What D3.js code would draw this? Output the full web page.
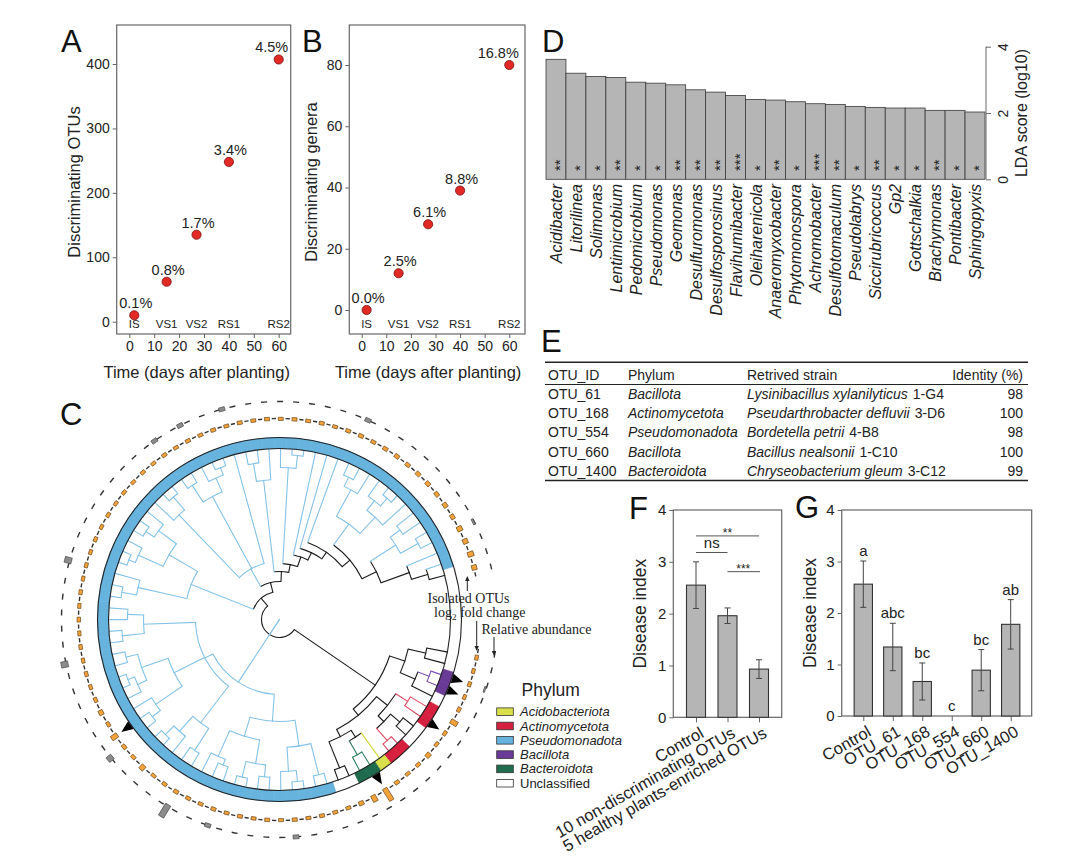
<!DOCTYPE html>
<html>
<head>
<meta charset="utf-8">
<script src="https://cdn.jsdelivr.net/npm/d3@7"></script>
<style>
  body { margin: 0; background: #fff; }
  svg { display: block; font-family: "Liberation Sans", Arial, sans-serif; }
</style>
</head>
<body>
<svg id="fig" width="1080" height="861"></svg>
<script>
// ---------- data ----------
const stages = ["IS", "VS1", "VS2", "RS1", "RS2"];
const stageDays = [2, 15, 27, 40, 60];
const otuCounts = [10, 62, 135, 248, 407];
const otuPct = ["0.1%", "0.8%", "1.7%", "3.4%", "4.5%"];
const genusCounts = [0, 12, 28, 39, 80];
const genusPct = ["0.0%", "2.5%", "6.1%", "8.8%", "16.8%"];

const ldaGenera = ["Acidibacter", "Litorilinea", "Solimonas", "Lentimicrobium", "Pedomicrobium", "Pseudomonas",
  "Geomonas", "Desulfuromonas", "Desulfosporosinus", "Flavihumibacter", "Oleiharenicola", "Anaeromyxobacter",
  "Phytomonospora", "Achromobacter", "Desulfotomaculum", "Pseudolabrys", "Siccirubricoccus", "Gp2",
  "Gottschalkia", "Brachymonas", "Pontibacter", "Sphingopyxis"];
const ldaScores = [3.62, 3.20, 3.10, 3.07, 2.93, 2.90, 2.85, 2.70, 2.63, 2.53, 2.41, 2.39,
  2.34, 2.28, 2.26, 2.20, 2.17, 2.15, 2.15, 2.08, 2.08, 2.03];
const ldaStars = ["**", "*", "*", "**", "*", "*", "**", "**", "**", "***", "*", "**",
  "*", "***", "**", "*", "**", "*", "*", "**", "*", "*"];

const otuIds = ["OTU_61", "OTU_168", "OTU_554", "OTU_660", "OTU_1400"];
const otuPhyla = ["Bacillota", "Actinomycetota", "Pseudomonadota", "Bacillota", "Bacteroidota"];
const strainNames = ["Lysinibacillus xylanilyticus", "Pseudarthrobacter defluvii", "Bordetella petrii",
  "Bacillus nealsonii", "Chryseobacterium gleum"];
const strainCodes = ["1-G4", "3-D6", "4-B8", "1-C10", "3-C12"];
const identity = [98, 100, 98, 100, 99];

const fGroups = ["Control", "10 non-discriminating OTUs", "5 healthy plants-enriched OTUs"];
const fMeans = [2.55, 1.96, 0.93];
const fErr = [0.45, 0.15, 0.18];
const fSig = [[0, 2, 3.50, "**"], [0, 1, 3.18, "ns"], [1, 2, 2.81, "***"]];

const gGroups = ["Control", "OTU_61", "OTU_168", "OTU_554", "OTU_660", "OTU_1400"];
const gMeans = [2.56, 1.34, 0.67, 0, 0.89, 1.78];
const gErr = [0.45, 0.46, 0.36, 0, 0.40, 0.48];
const gLetters = ["a", "abc", "bc", "c", "bc", "ab"];

// tree: leaves are phylum codes, internal labels are node radii (px)
const treeNewick =
  "(" +
  "(((U,U)150,((B,B)160,U)148)132,(((C,C)152,((U,U)158,(C,C)162)146)138,((A,(D,D)156)140,(U,U)160)132)124)116," +
  "(((((P,P)160,((P,P)163,P)152)128,(((P,P)158,(P,P)162)146,((P,P)156,P)150)122)102," +
  "(((P,P)156,(P,(P,P)162)150)130,(((P,P)160,P)150,((P,(P,P)163)156,(P,P)158)146)118,((P,P)158,(P,P)152)136)84)75)," +
  "((((P,P)160,P)145,(((P,P)162,P)155,((P,P)160,P)150)128)95," +
  "(((P,(P,P)162)145,((P,P)160,(P,(P,P)163)155)140,P)58," +
  "(((P,P)158,P)140,((P,(P,P)165)152," +
  "(P,(P,(P,((((P,P)158,P)148,((P,(P,P)162)152,P)140)118,(((P,P)150,(P,P)158)138,(P,(P,U)155)138)108)92)82)74)66)56)48)38)28" +
  ")18";
const phylumNames = { A: "Acidobacteriota", C: "Actinomycetota", P: "Pseudomonadota", B: "Bacillota", D: "Bacteroidota", U: "Unclassified" };
const legendOrder = ["A", "C", "P", "B", "D", "U"];
const isolatedLeaves = [2, 3, 6, 12, 34];
const log2fc = [1.5, 1.4, 1.5, 1.4, 1.5, 3.2, 1.5, 1.4, 2.0, 1.5, 1.4, 1.6, 6.0, 3.0, 1.8, 1.4,
  1.4, 1.5, 1.4, 1.5, 1.4, 1.5, 1.4, 1.5, 1.4, 1.5, 1.4, 1.5, 1.6, 1.5, 1.4,
  2.4, 1.5, 1.6, 3.0, 1.5, 2.0, 1.5, 1.4, 1.5, 1.4, 1.5, 1.4, 1.5, 1.4, 1.5,
  1.4, 1.5, 1.4, 1.5, 1.4, 1.5, 1.4, 1.5, 1.4, 1.5, 1.4, 1.5, 1.4, 1.5, 1.4,
  1.5, 1.4, 1.5, 1.4, 1.5, 1.4, 1.5, 1.4, 1.5, 1.4, 1.5, 1.6, 1.5, 1.6, 1.7,
  1.6, 1.7, 1.8, 1.7, 1.9, 1.8, 2.3, 2.2, 2.6, 2.2];
const relAbund = [0, 0, 0.15, 0, 0, 0, 0, 0, 0, 0, 0, 0, 0, 0, 0, 0,
  0, 0, 0, 0.4, 0, 0, 0, 0, 0, 0.4, 0, 0, 1.4, 0, 0,
  0, 0, 0.6, 0, 0, 0, 0, 0, 0, 0.7, 0, 0, 0, 0, 0,
  0, 0.7, 0, 0, 0, 0, 0, 0, 0, 0, 0, 0.4, 0, 0.4, 0,
  0, 0.4, 0, 0, 0, 0, 0, 0, 0, 0, 0, 0.4, 0, 0, 0,
  0, 0, 0, 0, 0, 0, 0.2, 0, 0, 0];

// ---------- styles ----------
const svg = d3.select("#fig");
const ink = "#222";
const frame = "#666";
const barFill = "#b5b5b5";
const ringColor = { A: "#d8df4a", C: "#d5203f", P: "#66b3de", B: "#6a3b96", D: "#1f6b4e", U: "#ffffff" };
const branchColor = { A: "#cfd636", C: "#e0455f", P: "#84c3e8", B: "#7b4fb0", D: "#2f7d5f", U: "#1a1a1a" };
const intFmt = d3.format("d");

svg.append("rect").attr("width", 1080).attr("height", 861).attr("fill", "#fff");

function panelLetter(t, x, y) {
  svg.append("text").attr("x", x).attr("y", y).attr("font-size", 31).attr("fill", "#111").text(t);
}

function styleAxis(a, size) {
  a.select(".domain").remove();
  a.selectAll("line").attr("stroke", frame);
  a.selectAll("text").attr("font-size", size).attr("fill", ink).attr("font-family", "Liberation Sans, Arial, sans-serif");
}

// ---------- A & B ----------
function scatterPanel(o) {
  const g = svg.append("g");
  const x = d3.scaleLinear([0, 60], [o.x0, o.x60]);
  const y = d3.scaleLinear([0, o.ymax], [o.y0, o.ytop]);
  g.append("rect").attr("x", o.left).attr("y", o.top).attr("width", o.right - o.left)
    .attr("height", o.bottom - o.top).attr("fill", "none").attr("stroke", frame).attr("stroke-width", 1.2);
  const ya = g.append("g").attr("transform", `translate(${o.left},0)`)
    .call(d3.axisLeft(y).tickValues(o.yticks).tickSize(4).tickPadding(3));
  const xa = g.append("g").attr("transform", `translate(0,${o.bottom})`)
    .call(d3.axisBottom(x).tickValues([0, 10, 20, 30, 40, 50, 60]).tickSize(4).tickPadding(3));
  styleAxis(ya, 14); styleAxis(xa, 14);

  g.selectAll(".stage").data(stages).join("text")
    .attr("x", (d, i) => x(stageDays[i])).attr("y", o.bottom - 6)
    .attr("text-anchor", "middle").attr("font-size", 11.5).attr("fill", ink).text(d => d);

  g.selectAll(".dot").data(o.values).join("circle")
    .attr("cx", (d, i) => x(stageDays[i])).attr("cy", d => y(d)).attr("r", 4.6)
    .attr("fill", "#e12a26").attr("stroke", "#7a1010").attr("stroke-width", 0.8);

  g.selectAll(".pct").data(o.labels).join("text")
    .attr("x", (d, i) => i === o.labels.length - 1 ? x(stageDays[i]) + 9.5 : x(stageDays[i]) + 1.5)
    .attr("y", (d, i) => y(o.values[i]) - 7)
    .attr("text-anchor", (d, i) => i === o.labels.length - 1 ? "end" : "middle")
    .attr("font-size", 14.5).attr("fill", ink).text(d => d);

  g.append("text").attr("x", (o.left + o.right) / 2 + o.titleShift).attr("y", 377.5)
    .attr("text-anchor", "middle").attr("font-size", 16.5).attr("fill", ink)
    .text("Time (days after planting)");
  g.append("text").attr("transform", `translate(${o.ylabX},182) rotate(-90)`)
    .attr("text-anchor", "middle").attr("font-size", 16.5).attr("fill", ink).text(o.ylabel);
}

scatterPanel({ left: 116.7, right: 290.7, top: 25, bottom: 334, x0: 129.3, x60: 278.7, y0: 321.7, ytop: 64,
  ymax: 400, yticks: [0, 100, 200, 300, 400], values: otuCounts, labels: otuPct,
  ylabel: "Discriminating OTUs", ylabX: 80, titleShift: -7 });
scatterPanel({ left: 349.3, right: 525, top: 25, bottom: 334, x0: 361.7, x60: 509.3, y0: 310, ytop: 65,
  ymax: 80, yticks: [0, 20, 40, 60, 80], values: genusCounts, labels: genusPct,
  ylabel: "Discriminating genera", ylabX: 317, titleShift: -9 });
panelLetter("A", 61, 52);
panelLetter("B", 302, 52);

// ---------- D ----------
{
  const g = svg.append("g");
  const x = d3.scaleBand(ldaGenera, [546, 985]).padding(0);
  const y = d3.scaleLinear([0, 4], [179.3, 46.7]);
  g.selectAll("rect").data(ldaScores).join("rect")
    .attr("x", (d, i) => x(ldaGenera[i])).attr("width", x.bandwidth())
    .attr("y", d => y(d)).attr("height", d => y(0) - y(d))
    .attr("fill", barFill).attr("stroke", "#3a3a3a").attr("stroke-width", 0.8);
  g.selectAll(".star").data(ldaStars).join("text")
    .attr("transform", (d, i) => `translate(${x(ldaGenera[i]) + x.bandwidth() / 2 + 9},171) rotate(-90)`)
    .attr("font-size", 15).attr("fill", ink).text(d => d);
  g.selectAll(".gen").data(ldaGenera).join("text")
    .attr("transform", d => `translate(${x(d) + x.bandwidth() / 2 + 6},184) rotate(-90)`)
    .attr("text-anchor", "end").attr("font-size", 16).attr("font-style", "italic").attr("fill", ink).text(d => d);
  const ax = g.append("g").attr("transform", "translate(986,0)")
    .call(d3.axisRight(y).tickValues([0, 2, 4]).tickSize(5).tickFormat(intFmt));
  ax.select(".domain").attr("stroke", frame).attr("d", `M0,${y(0)}V${y(4)}`);
  ax.selectAll("line").attr("stroke", frame);
  ax.selectAll("text").attr("x", 0).attr("dy", 0).attr("transform", "translate(22,0) rotate(-90)")
    .attr("text-anchor", "middle").attr("font-size", 14).attr("fill", ink)
    .attr("font-family", "Liberation Sans, Arial, sans-serif");
  g.append("text").attr("transform", `translate(1027,${y(2)}) rotate(-90)`).attr("text-anchor", "middle")
    .attr("font-size", 16).attr("fill", ink).text("LDA score (log10)");
  panelLetter("D", 542, 52);
}

// ---------- E ----------
{
  const g = svg.append("g").attr("font-size", 14).attr("fill", ink);
  const colX = [548, 628, 747];
  const rowY = [398.5, 418, 437.3, 456.5, 475.5];
  g.append("line").attr("x1", 545).attr("x2", 1028).attr("y1", 362.3).attr("y2", 362.3).attr("stroke", "#222").attr("stroke-width", 1.6);
  g.append("line").attr("x1", 545).attr("x2", 1028).attr("y1", 384.5).attr("y2", 384.5).attr("stroke", "#222").attr("stroke-width", 1);
  g.append("line").attr("x1", 545).attr("x2", 1028).attr("y1", 480.5).attr("y2", 480.5).attr("stroke", "#222").attr("stroke-width", 1.6);
  ["OTU_ID", "Phylum", "Retrived strain"].forEach((h, i) => g.append("text").attr("x", colX[i]).attr("y", 380).text(h));
  g.append("text").attr("x", 1023).attr("y", 380).attr("text-anchor", "end").text("Identity (%)");
  otuIds.forEach((id, i) => {
    g.append("text").attr("x", colX[0]).attr("y", rowY[i]).text(id);
    g.append("text").attr("x", colX[1]).attr("y", rowY[i]).attr("font-style", "italic").text(otuPhyla[i]);
    const t = g.append("text").attr("x", colX[2]).attr("y", rowY[i]);
    t.append("tspan").attr("font-style", "italic").text(strainNames[i]);
    t.append("tspan").attr("dx", 5).text(strainCodes[i]);
    g.append("text").attr("x", 1023).attr("y", rowY[i]).attr("text-anchor", "end").text(identity[i]);
  });
  panelLetter("E", 541, 352);
}

// ---------- F & G ----------
function barPanel(o) {
  const g = svg.append("g");
  const x = d3.scalePoint(o.groups, o.xr);
  const y = d3.scaleLinear([0, 4], [o.bottom, o.top]);
  g.append("rect").attr("x", o.left).attr("y", o.top).attr("width", o.right - o.left)
    .attr("height", o.bottom - o.top).attr("fill", "none").attr("stroke", frame).attr("stroke-width", 1.2);
  const ya = g.append("g").attr("transform", `translate(${o.left},0)`)
    .call(d3.axisLeft(y).tickValues([0, 1, 2, 3, 4]).tickSize(4).tickPadding(3).tickFormat(intFmt));
  const xa = g.append("g").attr("transform", `translate(0,${o.bottom})`)
    .call(d3.axisBottom(x).tickSize(5).tickFormat(""));
  styleAxis(ya, 15); styleAxis(xa, 15);
  const bw = o.bw;
  o.means.forEach((m, i) => {
    const cxp = x(o.groups[i]);
    if (m > 0) {
      g.append("rect").attr("x", cxp - bw / 2).attr("width", bw).attr("y", y(m)).attr("height", y(0) - y(m))
        .attr("fill", barFill).attr("stroke", "#333").attr("stroke-width", 1.1);
    }
    if (o.err[i] > 0) {
      const lo = y(m - o.err[i]), hi = y(m + o.err[i]);
      g.append("path").attr("d", `M${cxp},${lo}V${hi}M${cxp - 3},${lo}H${cxp + 3}M${cxp - 3},${hi}H${cxp + 3}`)
        .attr("stroke", "#444").attr("stroke-width", 1).attr("fill", "none");
    }
  });
  g.selectAll(".xl").data(o.groups).join("text")
    .attr("transform", d => `translate(${x(d) + 9},${o.bottom + 19}) rotate(-30)`)
    .attr("text-anchor", "end").attr("font-size", 16.5).attr("fill", ink).text(d => d);
  g.append("text").attr("transform", `translate(${o.ylabX},${(o.top + o.bottom) / 2}) rotate(-90)`)
    .attr("text-anchor", "middle").attr("font-size", 17.5).attr("fill", ink).text("Disease index");
  return { g, x, y };
}

{
  const { g, x, y } = barPanel({ groups: fGroups, means: fMeans, err: fErr, left: 673.3, right: 781.7,
    top: 510, bottom: 717.3, xr: [696, 759], bw: 19, ylabX: 646 });
  fSig.forEach(([a, b, v, lab]) => {
    const yy = y(v);
    g.append("line").attr("x1", x(fGroups[a])).attr("x2", x(fGroups[b]) + (a === 1 ? 1 : 0))
      .attr("y1", yy).attr("y2", yy).attr("stroke", "#555").attr("stroke-width", 1);
    g.append("text").attr("x", (x(fGroups[a]) + x(fGroups[b])) / 2).attr("y", lab === "ns" ? yy - 4 : yy + 1)
      .attr("text-anchor", "middle").attr("font-size", lab === "ns" ? 15 : 12).attr("fill", ink).text(lab);
  });
  panelLetter("F", 629, 519);
}
{
  const { g, x, y } = barPanel({ groups: gGroups, means: gMeans, err: gErr, left: 841.7, right: 1031.7,
    top: 510, bottom: 716, xr: [863.3, 1010.7], bw: 18.3, ylabX: 816 });
  g.selectAll(".lt").data(gLetters).join("text")
    .attr("x", (d, i) => x(gGroups[i])).attr("y", (d, i) => y(gMeans[i] + gErr[i]) - 5)
    .attr("text-anchor", "middle").attr("font-size", 15).attr("fill", ink).text(d => d);
  panelLetter("G", 795, 518);
}

// ---------- C : circular tree ----------
function parseNewick(s) {
  let i = 0;
  function node() {
    const n = {};
    if (s[i] === "(") {
      n.children = [];
      i++;
      n.children.push(node());
      while (s[i] === ",") { i++; n.children.push(node()); }
      i++;
    }
    let lab = "";
    while (i < s.length && !",()".includes(s[i])) lab += s[i++];
    if (n.children) n.r = +lab; else n.phylum = lab;
    return n;
  }
  return node();
}

{
  const g = svg.append("g");
  const cx = 279.5, cy = 619.5;
  const rIn = 171, rOut = 182, rFc = 199, rAb = 216;
  const toRad = Math.PI / 180;
  const root = d3.hierarchy(parseNewick(treeNewick));
  const leaves = root.leaves();
  const start = 99 * toRad, span = 338 * toRad;
  const step = span / leaves.length;
  leaves.forEach((l, i) => { l.idx = i; l.angle = start + (i + 0.5) * step; });
  root.eachAfter(n => {
    if (n.children) {
      n.angle = (n.children[0].angle + n.children[n.children.length - 1].angle) / 2;
      const ph = new Set(n.leaves().map(l => l.data.phylum));
      n.ph = ph.size === 1 ? [...ph][0] : "U";
    } else n.ph = n.data.phylum;
  });
  const pt = (r, a) => [cx + r * Math.sin(a), cy - r * Math.cos(a)];
  const arcPath = (r, a0, a1) => {
    const p0 = pt(r, a0), p1 = pt(r, a1);
    return `M${p0}A${r},${r} 0 ${a1 - a0 > Math.PI ? 1 : 0} 1 ${p1}`;
  };
  const nodeR = n => n.children ? n.data.r : rIn;

  // branches
  root.descendants().forEach(n => {
    if (n.parent) {
      const p0 = pt(n.parent.data.r, n.angle), p1 = pt(nodeR(n), n.angle);
      g.append("path").attr("d", `M${p0}L${p1}`).attr("stroke", branchColor[n.ph])
        .attr("stroke-width", 1.1).attr("fill", "none").attr("stroke-linecap", "square");
    }
    if (n.children) {
      g.append("path").attr("d", arcPath(n.data.r, n.children[0].angle, n.children[n.children.length - 1].angle))
        .attr("stroke", branchColor[n.ph]).attr("stroke-width", 1.1).attr("fill", "none");
    }
  });

  // phylum ring
  const ringArc = d3.arc().innerRadius(rIn).outerRadius(rOut);
  g.selectAll(".seg").data(leaves.filter(l => l.data.phylum !== "U")).join("path")
    .attr("transform", `translate(${cx},${cy})`)
    .attr("d", l => ringArc({ startAngle: l.angle - step / 2, endAngle: l.angle + step / 2 }))
    .attr("fill", l => ringColor[l.data.phylum]).attr("stroke", l => ringColor[l.data.phylum]).attr("stroke-width", 0.6);
  [rIn, rOut].forEach(r => g.append("circle").attr("cx", cx).attr("cy", cy).attr("r", r)
    .attr("fill", "none").attr("stroke", "#222").attr("stroke-width", 1.1));

  // isolated OTU markers
  isolatedLeaves.forEach(i => {
    const a = leaves[i].angle, d = 4.8 / rOut;
    const p = [pt(rOut + 0.5, a - d), pt(rOut + 0.5, a + d), pt(rOut + 12, a)];
    g.append("path").attr("d", `M${p[0]}L${p[1]}L${p[2]}Z`).attr("fill", "#000");
  });

  // log2 fold change ring
  for (let j = 0; j <= leaves.length; j++) {
    const b = start + j * step, h = 2.1 / 201;
    g.append("path").attr("d", arcPath(201, b - h, b + h)).attr("stroke", "#333").attr("stroke-width", 1.4).attr("fill", "none");
  }
  g.selectAll(".fc").data(log2fc).join("rect")
    .attr("transform", (d, i) => { const p = pt(rFc, leaves[i].angle); return `translate(${p}) rotate(${leaves[i].angle / toRad})`; })
    .attr("x", -2.5).attr("width", 5).attr("y", d => -d * 2.3).attr("height", d => d * 2.3)
    .attr("fill", "#f4a23a").attr("stroke", "#5a3a10").attr("stroke-width", 0.6);

  // relative abundance ring
  g.append("path").attr("d", arcPath(218, start - 0.5 * toRad, start + span))
    .attr("stroke", "#333").attr("stroke-width", 1.4).attr("fill", "none").attr("stroke-dasharray", "6,10");
  g.selectAll(".ab").data(relAbund.map((v, i) => [v, i]).filter(d => d[0] > 0)).join("rect")
    .attr("transform", d => { const a = leaves[d[1]].angle; const p = pt(rAb, a); return `translate(${p}) rotate(${a / toRad})`; })
    .attr("x", -3).attr("width", 6).attr("y", d => -d[0] * 10).attr("height", d => d[0] * 10)
    .attr("fill", "#8c8c8c").attr("stroke", "#444").attr("stroke-width", 0.6);

  // ring annotations
  const serif = "Liberation Serif, Times New Roman, serif";
  g.append("text").attr("x", 427.5).attr("y", 603).attr("font-family", serif).attr("font-size", 14).attr("fill", ink).text("Isolated OTUs");
  const lt = g.append("text").attr("x", 434).attr("y", 617).attr("font-family", serif).attr("font-size", 14).attr("fill", ink);
  lt.append("tspan").text("log");
  lt.append("tspan").attr("font-size", 9).attr("dy", 3).text("2");
  lt.append("tspan").attr("dy", -3).text(" fold change");
  g.append("text").attr("x", 481.5).attr("y", 634).attr("font-family", serif).attr("font-size", 14).attr("fill", ink).text("Relative abundance");
  const arrow = (x, y0, y1) => {
    const dir = y1 > y0 ? 1 : -1;
    g.append("line").attr("x1", x).attr("x2", x).attr("y1", y0).attr("y2", y1 - dir * 4).attr("stroke", "#222").attr("stroke-width", 1);
    g.append("path").attr("d", `M${x - 2.2},${y1 - dir * 5}L${x + 2.2},${y1 - dir * 5}L${x},${y1}Z`).attr("fill", "#222");
  };
  arrow(467.3, 591, 576);
  arrow(476.7, 621, 651);
  arrow(494, 637, 656);

  // legend
  const lg = svg.append("g");
  lg.append("text").attr("x", 521.5).attr("y", 696).attr("font-size", 17.5).attr("fill", ink).text("Phylum");
  legendOrder.forEach((k, i) => {
    const yy = 711.7 + i * 14.3;
    lg.append("rect").attr("x", 496.7).attr("y", yy - 3.8).attr("width", 16.6).attr("height", 7.6)
      .attr("fill", ringColor[k]).attr("stroke", "#333").attr("stroke-width", 0.8);
    lg.append("text").attr("x", 520).attr("y", yy + 4.5).attr("font-size", 13)
      .attr("font-style", k === "U" ? "normal" : "italic").attr("fill", ink).text(phylumNames[k]);
  });
  panelLetter("C", 60, 425);
}
</script>
</body>
</html>
